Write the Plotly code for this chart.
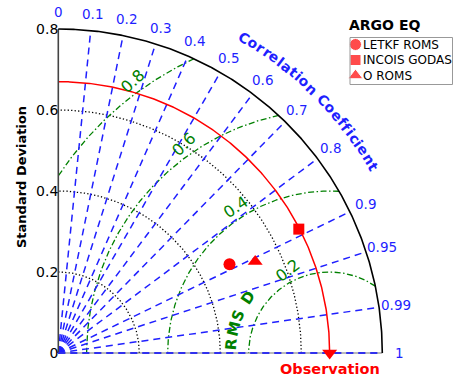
import numpy as np
import plotly.graph_objects as go

# ---------------- data ----------------
models = ["LETKF ROMS", "INCOIS GODAS", "O ROMS"]
model_std = [0.476, 0.668, 0.536]
model_corr = [0.888, 0.889, 0.907]
obs_std = 0.67
std_max = 0.8
std_ticks = [0, 0.2, 0.4, 0.6, 0.8]
std_arcs = [0.2, 0.4, 0.6]
corr_lines = [0.1, 0.2, 0.3, 0.4, 0.5, 0.6, 0.7, 0.8, 0.9, 0.95, 0.99, 1.0]
corr_labels = [0, 0.1, 0.2, 0.3, 0.4, 0.5, 0.6, 0.7, 0.8, 0.9, 0.95, 0.99, 1]
rmsd_levels = [0.2, 0.4, 0.6, 0.8]
panel_title = "ARGO EQ"

# ---------------- style ----------------
FONT = "DejaVu Sans"
BLUE = "#1f1fff"
GREEN = "#008000"
RED = "#ff0000"
model_symbol = ["circle", "square", "triangle-up"]
model_size = [12, 11, 13]

W, H = 454, 380
S = 405.0                 # pixels per unit of standard deviation
ox, oy = 58.3, 353.0      # pixel position of the origin
L, R, T, B = 40, 0, 8, 12
plot_w, plot_h = W - L - R, H - T - B
x_range = [(L - ox) / S, (W - R - ox) / S]
y_range = [-(H - B - oy) / S, (oy - T) / S]


def px(x):
    return (x - L) / plot_w


def py(y):
    return (H - B - y) / plot_h


fig = go.Figure()


def add_line(x, y, color, width, dash="solid"):
    fig.add_trace(go.Scatter(x=x, y=y, mode="lines", hoverinfo="skip",
                             line=dict(color=color, width=width, dash=dash),
                             showlegend=False))


theta = np.linspace(0, np.pi / 2, 300)

# standard deviation arcs (dotted)
for s in std_arcs:
    add_line(s * np.cos(theta), s * np.sin(theta), "black", 1.3, "1.3px,2.2px")

# RMSD arcs centred on the observation
for lev in rmsd_levels:
    if lev + obs_std > std_max:
        xi = (std_max ** 2 + obs_std ** 2 - lev ** 2) / (2 * obs_std)
        lo = np.arctan2(np.sqrt(std_max ** 2 - xi ** 2), xi - obs_std)
    else:
        lo = 0.0
    hi = np.arccos(-obs_std / lev) if lev > obs_std else np.pi
    phi = np.linspace(lo, hi, 300)
    add_line(obs_std + lev * np.cos(phi), lev * np.sin(phi), GREEN, 1.3,
             "6px,2.5px,1.5px,2.5px")

# correlation rays (dashed)
for c in corr_lines:
    a = np.arccos(c)
    add_line([0, std_max * np.cos(a)], [0, std_max * np.sin(a)], BLUE, 1.5, "7px,5px")

# observation std arc
add_line(obs_std * np.cos(theta), obs_std * np.sin(theta), RED, 1.5)

# axes frame: left axis, bottom axis and outer arc
add_line([0, 0], [0, std_max], "#444444", 1.6)
add_line([0, std_max], [0, 0], "#777777", 1.2)
add_line(std_max * np.cos(theta), std_max * np.sin(theta), "black", 1.6)
add_line([0, std_max], [0, 0], BLUE, 1.5, "7px,5px")

# observation marker
fig.add_trace(go.Scatter(x=[obs_std], y=[0], mode="markers", cliponaxis=False,
                         marker=dict(symbol="triangle-down", size=13, color=RED),
                         showlegend=False, hoverinfo="skip"))

# model points
for name, s, c, sym, sz in zip(models, model_std, model_corr, model_symbol, model_size):
    a = np.arccos(c)
    fig.add_trace(go.Scatter(x=[s * np.cos(a)], y=[s * np.sin(a)], mode="markers",
                             name=name, cliponaxis=False,
                             marker=dict(symbol=sym, size=sz, color=RED),
                             showlegend=False))

# legend keys on a small auxiliary axis (one row per model)
fig.add_trace(go.Scatter(x=[0.5] * len(models), y=list(range(len(models))),
                         xaxis="x2", yaxis="y2", mode="markers", cliponaxis=False,
                         marker=dict(symbol=model_symbol, size=[12, 11, 13], color=RED),
                         showlegend=False, hoverinfo="skip"))

ann = []

# correlation tick labels
for c in corr_labels:
    a = np.arccos(c)
    r = std_max * 1.052
    ann.append(dict(x=r * np.cos(a), y=r * np.sin(a), xref="x", yref="y",
                    text=f"{c:g}", showarrow=False, xanchor="center", yanchor="middle",
                    font=dict(family=FONT, size=13.5, color=BLUE)))

# RMSD labels along their arcs
rmsd_label_phi = [117, 123, 125, 126]
rmsd_label_rot = [-37, -34, -44, -42]
for lev, ph, rot in zip(rmsd_levels, rmsd_label_phi, rmsd_label_rot):
    p = np.radians(ph)
    rr = lev + 0.029
    ann.append(dict(x=obs_std + rr * np.cos(p), y=rr * np.sin(p), xref="x", yref="y",
                    text=f"{lev:g}", showarrow=False, textangle=rot,
                    xanchor="center", yanchor="middle",
                    font=dict(family=FONT, size=16, color=GREEN)))

# "RMSD" written along an arc round the observation
for ch, ph in zip("RMSD", [175, 166, 157.5, 146]):
    p = np.radians(ph)
    rr = 0.243
    ann.append(dict(x=obs_std + rr * np.cos(p), y=rr * np.sin(p), xref="x", yref="y",
                    text=f"<b>{ch}</b>", showarrow=False, textangle=90 - ph,
                    xanchor="center", yanchor="middle",
                    font=dict(family=FONT, size=15, color=GREEN)))

# "Correlation Coefficient" curved along the outer arc
label = "Correlation Coefficient"
cw = {"C": .734, "o": .687, "r": .493, "e": .678, "l": .343, "a": .675, "t": .478,
      "i": .343, "n": .712, " ": .348, "f": .435, "c": .593}
widths = np.array([cw[ch] for ch in label])
centers = np.cumsum(widths) - widths / 2
frac = (centers - centers[0]) / (centers[-1] - centers[0])
ang = 59.5 + (30.6 - 59.5) * frac
rc = 0.904
for ch, a in zip(label, ang):
    if ch == " ":
        continue
    t = np.radians(a)
    ann.append(dict(x=rc * np.cos(t), y=rc * np.sin(t), xref="x", yref="y",
                    text=f"<b>{ch}</b>", showarrow=False, textangle=90 - a,
                    xanchor="center", yanchor="middle",
                    font=dict(family=FONT, size=14, color=BLUE)))

# axis titles
ann.append(dict(x=px(21), y=py(177), xref="paper", yref="paper", text="<b>Standard Deviation</b>",
                showarrow=False, textangle=-90, xanchor="center", yanchor="middle",
                font=dict(family=FONT, size=13, color="black")))
ann.append(dict(x=obs_std, y=py(369), xref="x", yref="paper", text="<b>Observation</b>",
                showarrow=False, xanchor="center", yanchor="middle",
                font=dict(family=FONT, size=14.5, color=RED)))

# panel title and legend text
ann.append(dict(x=px(347), y=py(25), xref="paper", yref="paper", text=f"<b>{panel_title}</b>",
                showarrow=False, xanchor="left", yanchor="middle",
                font=dict(family=FONT, size=14, color="black")))
for i, name in enumerate(models):
    ann.append(dict(x=px(361), y=i, xref="paper", yref="y2", text=name,
                    showarrow=False, xanchor="left", yanchor="middle",
                    font=dict(family=FONT, size=12, color="black")))

shapes = [dict(type="rect", xref="paper", yref="paper", x0=px(350), x1=px(452.5),
               y0=py(84.5), y1=py(37.5), line=dict(color="#999999", width=1))]

row_h = 15.5
fig.update_layout(
    width=W, height=H,
    margin=dict(l=L, r=R, t=T, b=B),
    paper_bgcolor="white", plot_bgcolor="white",
    annotations=ann, shapes=shapes,
    showlegend=False,
    xaxis=dict(range=x_range, visible=False, fixedrange=True),
    yaxis=dict(range=y_range, anchor="free", position=(ox - L) / plot_w,
               tickvals=std_ticks, ticktext=[f"{v:g}" for v in std_ticks],
               showgrid=False, zeroline=False, showline=False, ticks="",
               tickfont=dict(family=FONT, size=14, color="black"), fixedrange=True),
    xaxis2=dict(domain=[px(350.5), px(360.5)], range=[0, 1], visible=False,
                anchor="y2", fixedrange=True),
    yaxis2=dict(domain=[py(44.5 + 2.5 * row_h), py(44.5 - 0.5 * row_h)],
                range=[2.5, -0.5], visible=False, anchor="x2", fixedrange=True),
    font=dict(family=FONT),
)

fig.write_html("out.html")
